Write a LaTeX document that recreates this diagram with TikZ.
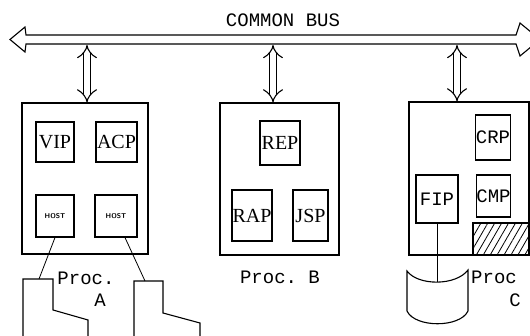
\documentclass[tikz,border=0pt]{standalone}
\usepackage{fontspec}
\setmainfont{Liberation Serif}
\setmonofont{Liberation Mono}
\usetikzlibrary{arrows.meta,patterns.meta}
\begin{document}
\begin{tikzpicture}[x=1pt, y=-1pt, line width=1.1pt,
  procbox/.style={draw, inner sep=0pt},
  unit/.style={draw, inner sep=0pt, font=\fontsize{20}{20}\selectfont},
  tunit/.style={unit, font=\ttfamily\fontsize{19}{19}\selectfont},
  hostunit/.style={unit, font=\sffamily\bfseries\fontsize{7}{7}\selectfont},
  tag/.style={font=\ttfamily\fontsize{19}{19}\selectfont, inner sep=0pt},
  link/.style={double, double distance=6pt, line width=1.1pt, {Implies}-{Implies}}]
\useasboundingbox (0,0) rectangle (530,336);
% common bus
\draw[line join=miter] (26,35) -- (516,35) -- (520,23) -- (540,39.5) -- (520,56)
  -- (516,44) -- (26,44) -- (25,52) -- (10,39.5) -- (25,27) -- cycle;
\node[tag] (bus) at (283,20) {COMMON BUS};
\coordinate (tapA) at (87,45);
\coordinate (tapB) at (273,45);
\coordinate (tapC) at (457,45);
% processor A
\node[procbox, minimum width=126pt, minimum height=151pt] (boxA) at (85,178.5) {};
\node[unit, minimum width=38pt, minimum height=40pt] (vip) at (55,142) {VIP};
\node[unit, minimum width=41pt, minimum height=40pt] (acp) at (116.5,142) {ACP};
\node[hostunit, minimum width=38pt, minimum height=42pt] (hostL) at (55,216) {HOST};
\node[hostunit, minimum width=42pt, minimum height=42pt] (hostR) at (116,216) {HOST};
\node[tag] (procA) at (86,278) {Proc.};
\node[tag] (procAid) at (100,300) {A};
\draw (23,336) -- (23,279) -- (53,279) -- (53,310) -- (88,320) -- (88,336);
\draw (134,336) -- (134,281) -- (163,281) -- (163,313) -- (200,323) -- (200,336);
\coordinate (termL) at (39,279);
\coordinate (termR) at (145,281);
\draw[line width=0.8pt] (hostL.south) -- (termL);
\draw[line width=0.8pt] ([xshift=9pt]hostR.south) -- (termR);
% processor B
\node[procbox, minimum width=119pt, minimum height=152pt] (boxB) at (279.5,179) {};
\node[unit, minimum width=40pt, minimum height=44pt] (rep) at (280,143) {REP};
\node[unit, minimum width=40pt, minimum height=51pt] (rap) at (252,215.5) {RAP};
\node[unit, minimum width=35pt, minimum height=51pt] (jsp) at (310.5,215.5) {JSP};
\node[tag] (procB) at (280,277) {Proc. B};
% processor C
\node[procbox, minimum width=120pt, minimum height=153pt] (boxC) at (469,178.5) {};
\node[tunit, minimum width=34pt, minimum height=45pt] (crp) at (493,137.5) {CRP};
\node[tunit, minimum width=33pt, minimum height=42pt] (cmp) at (493.5,196) {CMP};
\node[tunit, minimum width=42pt, minimum height=48pt] (fip) at (437,199) {FIP};
\node[procbox, minimum width=56pt, minimum height=32pt,
  pattern={Lines[angle=60, distance=6pt, line width=0.8pt]}] (store) at (501,239) {};
\node[tag] (procC) at (494,277) {Proc};
\node[tag] (procCid) at (515,300) {C};
\draw (407,271) .. controls (418,286) and (456,286) .. (468,270) -- (468,311)
  .. controls (460,328) and (415,328) .. (407,311) -- cycle;
\coordinate (disk) at (437,282);
\draw[line width=0.8pt] (fip.south) -- (disk);
% bus links
\draw[link] (tapA) -- (tapA |- boxA.north);
\draw[link] (tapB) -- (tapB |- boxB.north);
\draw[link] (tapC) -- (tapC |- boxC.north);
\end{tikzpicture}
\end{document}
